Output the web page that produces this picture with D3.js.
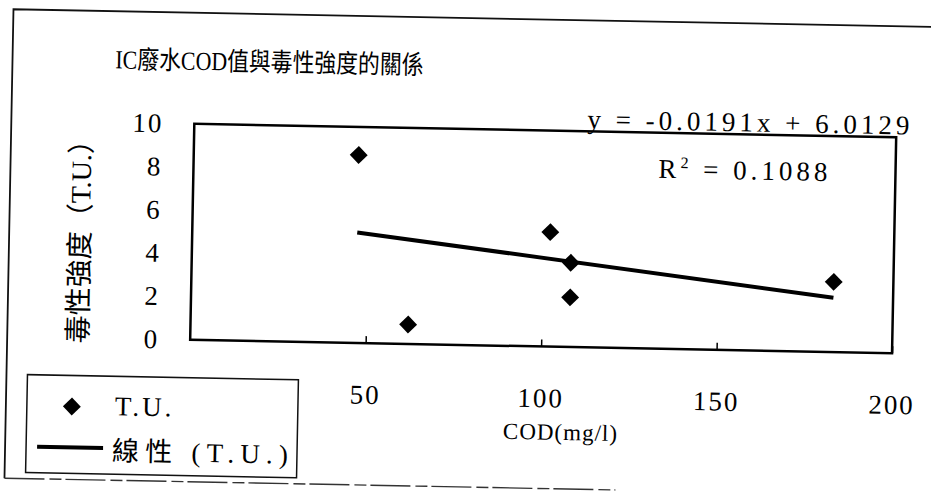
<!DOCTYPE html>
<html>
<head>
<meta charset="utf-8">
<script src="https://cdn.jsdelivr.net/npm/d3@7"></script>
<style>
  body { margin: 0; background: white; }
  svg { display: block; }
</style>
</head>
<body>
<script>
// data
const codValues = [47, 62, 102, 108, 108, 183];
const tuValues = [8.7, 0.9, 5.3, 3.9, 2.3, 3.25];
const xTicks = [50, 100, 150, 200];
const yTicks = [0, 2, 4, 6, 8, 10];
const trendSlope = -0.0191;
const trendIntercept = 6.0129;
const rSquared = "0.1088";
const legendLabels = ["T.U.", "線性 (T.U.)"];

const w = 931;
const h = 494;
const font = "'Liberation Serif', 'Times New Roman', 'Noto Sans CJK TC', serif";

const svg = d3.select("body")
              .append("svg")
              .attr("width", w)
              .attr("height", h)
              .style("background-color", "white");

// the scan is tilted a little, so everything sits in a rotated group
const page = svg.append("g")
                .attr("transform", "rotate(1.1, 465, 247)");

const plot = { left: 192, right: 894, top: 129, bottom: 345 };

const xScale = d3.scaleLinear()
                 .domain([0, 200])
                 .range([plot.left, plot.right]);

const yScale = d3.scaleLinear()
                 .domain([0, 10])
                 .range([plot.bottom, plot.top]);

// outer page frame
page.append("path")
    .attr("d", `M 9 487 L 9 18 L 960 18`)
    .attr("fill", "none")
    .attr("stroke", "#111")
    .attr("stroke-width", 1.8);

page.append("line")
    .attr("x1", 9).attr("x2", 620)
    .attr("y1", 487).attr("y2", 487)
    .attr("stroke", "#333")
    .attr("stroke-width", 1.4)
    .attr("stroke-dasharray", "40 5 12 4");

// title (squeezed sideways like the narrow print face)
page.append("text")
    .text("IC廢水COD值與毒性強度的關係")
    .attr("transform", "translate(266, 75) scale(0.84, 1)")
    .attr("text-anchor", "middle")
    .style("font-family", font)
    .style("font-size", "26px");

// plot frame
page.append("rect")
    .attr("x", plot.left)
    .attr("y", plot.top)
    .attr("width", plot.right - plot.left)
    .attr("height", plot.bottom - plot.top)
    .attr("fill", "none")
    .attr("stroke", "black")
    .attr("stroke-width", 2.5);

// axes
const xAxis = d3.axisBottom(xScale)
                .tickValues(xTicks)
                .tickSizeInner(-7)
                .tickSizeOuter(0)
                .tickPadding(41.5);

const yAxis = d3.axisLeft(yScale)
                .tickValues(yTicks)
                .tickSize(0)
                .tickPadding(31);

const gx = page.append("g")
               .attr("id", "x-axis")
               .attr("transform", `translate(0, ${plot.bottom})`)
               .call(xAxis);

const gy = page.append("g")
               .attr("id", "y-axis")
               .attr("transform", `translate(${plot.left}, 0)`)
               .call(yAxis);

[gx, gy].forEach(g => {
  g.select(".domain").remove();
  g.attr("font-family", null);
  g.selectAll("line").attr("stroke", "black").attr("stroke-width", 1.5);
  g.selectAll("text")
   .attr("fill", "black")
   .style("font-family", font)
   .style("font-size", "27px")
   .style("letter-spacing", "2px");
});

// axis titles
page.append("text")
    .text("COD(mg/l)")
    .attr("x", 564)
    .attr("y", 438)
    .attr("text-anchor", "middle")
    .style("font-family", font)
    .style("font-size", "23px")
    .style("letter-spacing", "1px");

page.append("text")
    .text("毒性強度（T.U.）")
    .attr("transform", "translate(80, 242) rotate(-90)")
    .attr("text-anchor", "middle")
    .attr("dominant-baseline", "central")
    .style("font-family", font)
    .style("font-size", "28px");

// trend line
const trendX = d3.extent(codValues);
page.append("line")
    .attr("x1", xScale(trendX[0]))
    .attr("y1", yScale(trendSlope * trendX[0] + trendIntercept))
    .attr("x2", xScale(trendX[1]))
    .attr("y2", yScale(trendSlope * trendX[1] + trendIntercept))
    .attr("stroke", "black")
    .attr("stroke-width", 4);

// points
const diamond = d3.symbol().type(d3.symbolSquare).size(160);

page.selectAll(".dot")
    .data(codValues)
    .enter()
    .append("path")
    .attr("class", "dot")
    .attr("d", diamond)
    .attr("transform", (d, i) => `translate(${xScale(d)}, ${yScale(tuValues[i])}) rotate(45)`)
    .attr("fill", "black");

// equation + R²
page.append("text")
    .text(`y = ${trendSlope}x + ${trendIntercept}`)
    .attr("x", 585)
    .attr("y", 126)
    .attr("textLength", 322)
    .attr("lengthAdjust", "spacing")
    .style("font-family", font)
    .style("font-size", "27px");

const r2 = page.append("text")
               .attr("x", 657)
               .attr("y", 174)
               .style("font-family", font)
               .style("font-size", "27px")
               .style("letter-spacing", "4px");
r2.append("tspan").text("R");
r2.append("tspan").text("2").attr("dy", -10).style("font-size", "16px");
r2.append("tspan").text(` = ${rSquared}`).attr("dy", 10);

// legend
const legend = page.append("g").attr("id", "legend");

legend.append("rect")
      .attr("x", 30)
      .attr("y", 383)
      .attr("width", 271)
      .attr("height", 98)
      .attr("fill", "white")
      .attr("stroke", "#111")
      .attr("stroke-width", 1.5);

legend.append("path")
      .attr("d", diamond)
      .attr("transform", "translate(75, 414) rotate(45)")
      .attr("fill", "black");

legend.append("text")
      .text(legendLabels[0])
      .attr("x", 118)
      .attr("y", 422)
      .style("font-family", font)
      .style("font-size", "27px")
      .style("letter-spacing", "3px");

legend.append("line")
      .attr("x1", 41).attr("x2", 107)
      .attr("y1", 455).attr("y2", 455)
      .attr("stroke", "black")
      .attr("stroke-width", 4);

legend.append("text")
      .text(legendLabels[1])
      .attr("x", 116)
      .attr("y", 467)
      .attr("textLength", 176)
      .attr("lengthAdjust", "spacing")
      .style("font-family", font)
      .style("font-size", "27px");
</script>
</body>
</html>
